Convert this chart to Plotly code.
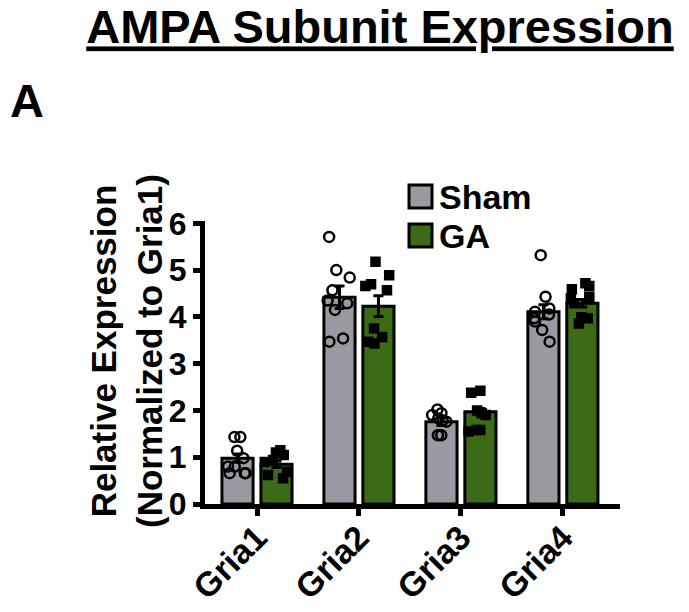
import numpy as np
import plotly.graph_objects as go

categories = ["Gria1", "Gria2", "Gria3", "Gria4"]
series_names = ["Sham", "GA"]

sham_mean = [0.98, 4.42, 1.76, 4.11]
ga_mean = [0.85, 4.23, 1.97, 4.29]
sham_sem = [0.09, 0.24, 0.08, 0.15]
ga_sem = [0.07, 0.22, 0.07, 0.08]

sham_points = [
    [1.43, 1.43, 1.14, 0.98, 0.80, 0.80, 0.66, 0.66, 0.66],
    [5.71, 5.00, 4.84, 4.57, 4.35, 4.29, 4.15, 3.54, 3.47],
    [2.02, 1.94, 1.90, 1.83, 1.79, 1.76, 1.47, 1.47],
    [5.32, 4.43, 4.18, 4.11, 4.05, 3.97, 3.90, 3.72, 3.47],
]
ga_points = [
    [1.15, 1.10, 1.05, 0.94, 0.90, 0.69, 0.62, 0.55],
    [5.18, 4.89, 4.70, 4.66, 4.57, 3.75, 3.57, 3.43, 3.47],
    [2.38, 2.42, 2.00, 1.94, 1.90, 1.58, 1.55, 1.58],
    [4.72, 4.59, 4.66, 4.43, 4.40, 4.29, 3.97, 3.99, 3.86],
]
y_ticks = [0, 1, 2, 3, 4, 5, 6]

# style
GRAY = "#9b9aa2"
GREEN = "#3b6b16"
FONT = "Liberation Sans, Arial, Helvetica, sans-serif"
BARGAP = 0.236
GROUPGAP = 0.2
SLOT = (1 - BARGAP) / 2
OFFS = [-SLOT / 2, SLOT / 2]

idx = np.arange(len(categories))

fig = go.Figure()
for name, mean, sem, col in [("Sham", sham_mean, sham_sem, GRAY), ("GA", ga_mean, ga_sem, GREEN)]:
    fig.add_trace(go.Bar(
        x=idx, y=mean, name=name,
        marker=dict(color=col, line=dict(color="black", width=3)),
        error_y=dict(type="data", array=sem, visible=True, color="black", thickness=3, width=5),
        showlegend=False,
    ))

for pts, off, sym, size in [(sham_points, OFFS[0], "circle-open", 10), (ga_points, OFFS[1], "square", 8)]:
    xs, ys = [], []
    for i, p in enumerate(pts):
        xs += [i + off] * len(p)
        ys += p
    fig.add_trace(go.Box(
        x=xs, y=ys, boxpoints="all", jitter=1.0, pointpos=0, width=0.27,
        fillcolor="rgba(0,0,0,0)", line=dict(width=0, color="rgba(0,0,0,0)"),
        marker=dict(symbol=sym, size=size, color="black", line=dict(width=2.5, color="black")),
        showlegend=False, hoveron="points",
    ))

L, R, T, B = 205, 69, 221, 108
W, H = 689, 612
pw, ph = W - L - R, H - T - B

def px2x(p):
    return (p - L) / pw

def px2y(p):
    return (H - B - p) / ph

shapes = []
annotations = []
for j, (name, col) in enumerate(zip(series_names, [GRAY, GREEN])):
    top = 185 + j * 39
    shapes.append(dict(type="rect", xref="paper", yref="paper",
                       x0=px2x(409), x1=px2x(432), y0=px2y(top + 23), y1=px2y(top),
                       fillcolor=col, line=dict(color="black", width=3)))
    annotations.append(dict(text=name, xref="paper", yref="paper", x=px2x(437), y=px2y(top + 12),
                            xanchor="left", yanchor="middle", showarrow=False,
                            font=dict(family=FONT, size=34, color="black", weight="bold")))

annotations.append(dict(text="A", xref="paper", yref="paper", x=px2x(8), y=px2y(100),
                        xanchor="left", yanchor="middle", showarrow=False,
                        font=dict(family=FONT, size=47, color="black", weight="bold")))
annotations.append(dict(text="Relative Expression<br>(Normalized to Gria1)", xref="paper", yref="paper",
                        x=px2x(126), y=px2y(351), xanchor="center", yanchor="middle",
                        textangle=-90, showarrow=False,
                        font=dict(family=FONT, size=35, color="black", weight="bold")))

fig.update_layout(
    width=W, height=H,
    margin=dict(l=L, r=R, t=T, b=B, autoexpand=False),
    barmode="group", bargap=BARGAP, bargroupgap=GROUPGAP,
    plot_bgcolor="white", paper_bgcolor="white",
    title=dict(text="AMPA Subunit Expression", x=380 / W, xanchor="center",
               y=1 - 27 / H, yanchor="middle", yref="container",
               font=dict(family=FONT, size=47, color="black", weight="bold", lineposition="under")),
    shapes=shapes, annotations=annotations,
    xaxis=dict(range=[-0.51, 3.56], tickvals=list(idx), ticktext=categories, tickangle=-45,
               showline=True, linecolor="black", linewidth=5, ticks="outside", ticklen=7,
               tickwidth=5, tickcolor="black", showgrid=False, zeroline=False, automargin=False,
               ticklabelstandoff=-12,
               tickfont=dict(family=FONT, size=34, color="black", weight="bold")),
    yaxis=dict(range=[0, 6.05], tickvals=y_ticks, showline=True, linecolor="black", linewidth=5,
               ticks="outside", ticklen=7, tickwidth=5, tickcolor="black", showgrid=False,
               zeroline=False, automargin=False,
               tickfont=dict(family=FONT, size=32, color="black", weight="bold")),
    showlegend=False,
)

fig.write_html("out.html", config={"displayModeBar": False},
               post_script="document.body.style.margin='0';document.body.style.overflow='hidden';")
